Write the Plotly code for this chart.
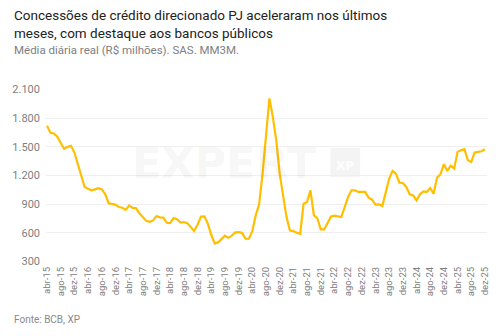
import plotly.graph_objects as go

# Monthly data, abr-15 .. dez-25 (R$ milhões, média diária real, MM3M)
values = [1720, 1646, 1640, 1605, 1540, 1480, 1500, 1510, 1440, 1320,
          1190, 1080, 1062, 1045, 1055, 1068, 1055, 1005, 910, 900,
          895, 870, 863, 840, 885, 860, 858, 805, 760, 725,
          715, 730, 775, 762, 760, 705, 702, 755, 742, 708,
          713, 700, 662, 620, 685, 770, 772, 695, 580, 490,
          500, 535, 570, 548, 570, 605, 607, 600, 538, 538,
          618, 783, 898, 1220, 1600, 2007, 1814, 1570, 1220, 1010,
          765, 625, 618, 601, 590, 905, 922, 1045, 783, 755,
          636, 636, 712, 772, 779, 772, 765, 870, 975, 1045,
          1045, 1028, 1028, 1028, 968, 947, 895, 898, 880, 1028,
          1167, 1247, 1220, 1125, 1122, 1080, 1003, 992, 940, 1003,
          1034, 1028, 1069, 1010, 1178, 1213, 1318, 1247, 1304, 1273,
          1447, 1465, 1475, 1360, 1342, 1440, 1451, 1454, 1475]

month_index = list(range(len(values)))

tick_labels = ["abr-15", "ago-15", "dez-15", "abr-16", "ago-16", "dez-16",
               "abr-17", "ago-17", "dez-17", "abr-18", "ago-18", "dez-18",
               "abr-19", "ago-19", "dez-19", "abr-20", "ago-20", "dez-20",
               "abr-21", "ago-21", "dez-21", "abr-22", "ago-22", "dez-22",
               "abr-23", "ago-23", "dez-23", "abr-24", "ago-24", "dez-24",
               "abr-25", "ago-25", "dez-25"]
tick_positions = month_index[::4]

y_ticks = [300, 600, 900, 1200, 1500, 1800, 2100]

title_text = "Concessões de crédito direcionado PJ aceleraram nos últimos<br>meses, com destaque aos bancos públicos"
subtitle_text = "Média diária real (R$ milhões). SAS. MM3M."
source_text = "Fonte: BCB, XP"

W, H = 502, 336
ML, MR, MT, MB = 45, 12, 89, 74
PW, PH = W - ML - MR, H - MT - MB


def px(x):
    return (x - ML) / PW


def py(y):
    return (H - MB - y) / PH


fig = go.Figure()
fig.add_trace(go.Scatter(
    x=month_index, y=values, mode="lines",
    line=dict(color="#FFBF00", width=2.2),
    hoverinfo="skip", showlegend=False))

fig.update_layout(
    width=W, height=H,
    margin=dict(l=ML, r=MR, t=MT, b=MB),
    paper_bgcolor="white", plot_bgcolor="white",
    separators=",.",
    font=dict(family="Roboto", color="#777777"),
    xaxis=dict(range=[-0.3, 128.6], tickmode="array", tickvals=tick_positions,
               ticktext=tick_labels, tickangle=-90, showgrid=False,
               zeroline=False, showline=False, ticks="",
               ticklabelstandoff=2,
               tickfont=dict(size=9.5, color="#808080")),
    yaxis=dict(range=[295, 2105], tickmode="array", tickvals=y_ticks,
               tickformat=",d", showgrid=True, gridcolor="#efefef",
               gridwidth=1, zeroline=False, showline=False, ticks="",
               ticklabelstandoff=5,
               tickfont=dict(size=11, color="#808080")),
    shapes=[dict(type="rect", xref="paper", yref="paper",
                 x0=px(332), x1=px(362), y0=py(177), y1=py(148),
                 fillcolor="rgba(0,0,0,0.045)", line=dict(width=0),
                 layer="below")],
    annotations=[
        dict(text=title_text, xref="paper", yref="paper", x=px(11), y=py(5),
             xanchor="left", yanchor="top", align="left", showarrow=False,
             font=dict(size=13.5, color="#222222", family="Roboto")),
        dict(text=subtitle_text, xref="paper", yref="paper", x=px(11), y=py(41),
             xanchor="left", yanchor="top", align="left", showarrow=False,
             font=dict(size=11.5, color="#808080", family="Roboto")),
        dict(text=source_text, xref="paper", yref="paper", x=px(11), y=py(319),
             xanchor="left", yanchor="middle", align="left", showarrow=False,
             font=dict(size=10, color="#8a8a8a", family="Roboto")),
        dict(text="<b>EXPERT</b>", xref="paper", yref="paper", x=px(225), y=py(163),
             xanchor="center", yanchor="middle", showarrow=False,
             font=dict(size=43, color="rgba(0,0,0,0.05)", family="DejaVu Sans")),
        dict(text="<b>XP</b>", xref="paper", yref="paper", x=px(347), y=py(166),
             xanchor="center", yanchor="middle", showarrow=False,
             font=dict(size=12, color="rgba(255,255,255,0.9)", family="DejaVu Sans")),
    ],
)

fig.write_html("out.html")
